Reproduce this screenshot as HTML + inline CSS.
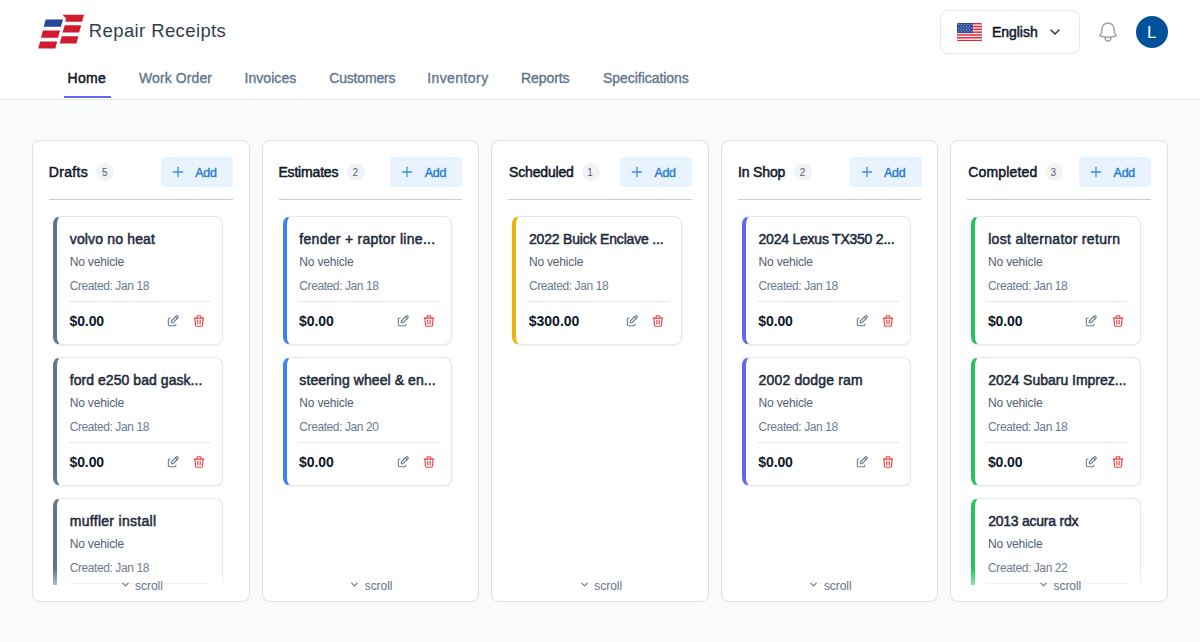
<!DOCTYPE html>
<html><head><meta charset="utf-8"><title>Repair Receipts</title>
<style>
*{box-sizing:border-box;margin:0;padding:0}
html,body{width:1200px;height:642px;overflow:hidden}
body{background:#f8fafc;font-family:"Liberation Sans",sans-serif;position:relative;color:#0f172a}
.t{position:absolute;white-space:nowrap}
.hdr{position:absolute;left:0;top:0;width:1200px;height:100px;background:#fff;border-bottom:1px solid #e5e7eb}
.ul{position:absolute;left:64px;top:96px;width:47px;height:2px;background:#6366f1}
.lang{position:absolute;left:940px;top:10px;width:140px;height:44px;border:1px solid #e6e8ec;border-radius:8px;background:#fff}
.av{position:absolute;left:1136px;top:16px;width:32px;height:32px;border-radius:50%;background:#00539a}
.col{position:absolute;top:140px;width:217.6px;height:462px;background:#fff;border:1px solid #dcdfe5;border-radius:8px}
.clip{position:absolute;left:0;top:60px;width:1200px;height:525px;overflow:hidden}
.bd{position:absolute;top:162.8px;width:18.200px;height:18.200px;border-radius:50%;background:#f2f3f6}
.add{position:absolute;top:157px;width:72px;height:30px;border-radius:4px;background:#e8f3fd}
.hr{position:absolute;top:199px;width:183.6px;height:1px;background:#cbced3}
.card{position:absolute;width:169.6px;height:128.6px;background:#fff;border:1px solid #e2e8f0;border-left:4px solid #000;border-radius:8px;box-shadow:0 1px 2px rgba(15,23,42,.06)}
.dv{position:absolute;width:141px;height:1px;background:#e2e8f0}
.ic{position:absolute;width:14px;height:14px}
.fade{position:absolute;top:569px;width:215.6px;height:16px;background:linear-gradient(to bottom,rgba(255,255,255,0),rgba(255,255,255,.52))}
</style></head><body>
<div class="hdr"></div>
<svg style="position:absolute;left:0;top:0" width="100" height="60" viewBox="0 0 100 60"><g fill="#d01c2e"><path d="M62.500 14.800H84l-1.900 6.900H65.300l.8-3.300z"/><path d="M64.700 25.200h16.500l-2 7.300H62.500z"/><path d="M61.800 36.300h16.600l-2 7.200H59.700z"/><path d="M42.900 30.400H60l-1.900 7.300H41z"/><path d="M40.100 41.400h17.100l-1.900 7.200H38.200z"/></g><path d="M45.700 19.600H63l-2.100 7.200H43.800z" fill="#24429b"/><g fill="#fff" fill-opacity=".22"><circle cx="47.20" cy="21.30" r=".42"/><circle cx="49.30" cy="21.30" r=".42"/><circle cx="51.40" cy="21.30" r=".42"/><circle cx="53.50" cy="21.30" r=".42"/><circle cx="55.60" cy="21.30" r=".42"/><circle cx="57.70" cy="21.30" r=".42"/><circle cx="59.80" cy="21.30" r=".42"/><circle cx="46.65" cy="23.20" r=".42"/><circle cx="48.75" cy="23.20" r=".42"/><circle cx="50.85" cy="23.20" r=".42"/><circle cx="52.95" cy="23.20" r=".42"/><circle cx="55.05" cy="23.20" r=".42"/><circle cx="57.15" cy="23.20" r=".42"/><circle cx="59.25" cy="23.20" r=".42"/><circle cx="46.10" cy="25.10" r=".42"/><circle cx="48.20" cy="25.10" r=".42"/><circle cx="50.30" cy="25.10" r=".42"/><circle cx="52.40" cy="25.10" r=".42"/><circle cx="54.50" cy="25.10" r=".42"/><circle cx="56.60" cy="25.10" r=".42"/><circle cx="58.70" cy="25.10" r=".42"/></g></svg>

<div class="t" style="left:88.80px;top:18px;font-size:18.5px;line-height:25px;color:#343d4d;letter-spacing:0.388px;">Repair Receipts</div>
<div class="t" style="left:67.55px;top:68px;font-size:14px;line-height:20px;color:#0f172a;letter-spacing:0.314px;-webkit-text-stroke:0.5px #0f172a;">Home</div>
<div class="t" style="left:138.98px;top:68px;font-size:14px;line-height:20px;color:#64748b;letter-spacing:0.103px;-webkit-text-stroke:0.35px #64748b;">Work Order</div>
<div class="t" style="left:244.48px;top:68px;font-size:14px;line-height:20px;color:#64748b;letter-spacing:0.056px;-webkit-text-stroke:0.35px #64748b;">Invoices</div>
<div class="t" style="left:329.18px;top:68px;font-size:14px;line-height:20px;color:#64748b;letter-spacing:-0.154px;-webkit-text-stroke:0.35px #64748b;">Customers</div>
<div class="t" style="left:427.18px;top:68px;font-size:14px;line-height:20px;color:#64748b;letter-spacing:0.421px;-webkit-text-stroke:0.35px #64748b;">Inventory</div>
<div class="t" style="left:520.97px;top:68px;font-size:14px;line-height:20px;color:#64748b;letter-spacing:-0.062px;-webkit-text-stroke:0.35px #64748b;">Reports</div>
<div class="t" style="left:602.97px;top:68px;font-size:14px;line-height:20px;color:#64748b;letter-spacing:-0.041px;-webkit-text-stroke:0.35px #64748b;">Specifications</div>
<div class="ul"></div>
<div class="lang"><svg style="position:absolute;left:16px;top:11.800px" width="25.100" height="18.300" viewBox="0 0 25.100 18.300"><defs><clipPath id="fc"><rect width="25.100" height="18.300" rx="1.800"/></clipPath></defs><g clip-path="url(#fc)"><rect width="25.100" height="18.300" fill="#fdeef0"/><g fill="#e02235"><rect y="0.000" width="25.100" height="1.410"/><rect y="2.815" width="25.100" height="1.410"/><rect y="5.630" width="25.100" height="1.410"/><rect y="8.445" width="25.100" height="1.410"/><rect y="11.260" width="25.100" height="1.410"/><rect y="14.075" width="25.100" height="1.410"/><rect y="16.890" width="25.100" height="1.410"/></g><rect width="15.700" height="10.150" fill="#27459b"/><g fill="#fff" fill-opacity=".78"><circle cx="1.70" cy="1.50" r=".55"/><circle cx="4.80" cy="1.50" r=".55"/><circle cx="7.90" cy="1.50" r=".55"/><circle cx="11.00" cy="1.50" r=".55"/><circle cx="14.10" cy="1.50" r=".55"/><circle cx="3.25" cy="3.30" r=".55"/><circle cx="6.35" cy="3.30" r=".55"/><circle cx="9.45" cy="3.30" r=".55"/><circle cx="12.55" cy="3.30" r=".55"/><circle cx="1.70" cy="5.10" r=".55"/><circle cx="4.80" cy="5.10" r=".55"/><circle cx="7.90" cy="5.10" r=".55"/><circle cx="11.00" cy="5.10" r=".55"/><circle cx="14.10" cy="5.10" r=".55"/><circle cx="3.25" cy="6.90" r=".55"/><circle cx="6.35" cy="6.90" r=".55"/><circle cx="9.45" cy="6.90" r=".55"/><circle cx="12.55" cy="6.90" r=".55"/><circle cx="1.70" cy="8.70" r=".55"/><circle cx="4.80" cy="8.70" r=".55"/><circle cx="7.90" cy="8.70" r=".55"/><circle cx="11.00" cy="8.70" r=".55"/><circle cx="14.10" cy="8.70" r=".55"/></g></g></svg>
<svg style="position:absolute;left:106px;top:13px" width="16" height="16" viewBox="0 0 24 24" fill="none" stroke="#1f2937" stroke-width="2" stroke-linecap="round" stroke-linejoin="round"><path d="M6 9l6 6l6 -6"/></svg></div>
<div class="t" style="left:991.95px;top:22px;font-size:14px;line-height:20px;color:#0f172a;letter-spacing:-0.022px;-webkit-text-stroke:0.5px #0f172a;">English</div>
<svg style="position:absolute;left:1096px;top:19.700px" width="24" height="24" viewBox="0 0 24 24" fill="none" stroke="#9ca3af" stroke-width="1.500" stroke-linecap="round" stroke-linejoin="round"><path d="M14.857 17.082a23.848 23.848 0 0 0 5.454-1.310A8.967 8.967 0 0 1 18 9.750V9A6 6 0 0 0 6 9v.750a8.967 8.967 0 0 1-2.312 6.022c1.733.640 3.560 1.085 5.455 1.310m5.714 0a24.255 24.255 0 0 1-5.714 0m5.714 0a3 3 0 1 1-5.714 0"/></svg>
<div class="av"></div>
<div class="t" style="left:1146.90px;top:20px;font-size:17px;line-height:25px;color:#ffffff;letter-spacing:0.000px;">L</div>
<div class="col" style="left:32px"></div>
<div class="t" style="left:48.75px;top:162px;font-size:14px;line-height:20px;color:#0f172a;letter-spacing:0.332px;-webkit-text-stroke:0.5px #0f172a;">Drafts</div>
<div class="bd" style="left:96.30px"></div>
<div class="t" style="left:101.90px;top:165px;font-size:10px;line-height:15px;color:#56606f;letter-spacing:0.000px;">5</div>
<div class="add" style="left:160.80px"><svg style="position:absolute;left:9px;top:7px" width="16" height="16" viewBox="0 0 24 24" fill="none" stroke="#3b8fe3" stroke-width="1.900" stroke-linecap="round" stroke-linejoin="round"><path d="M12 5l0 14"/><path d="M5 12l14 0"/></svg></div>
<div class="t" style="left:195.18px;top:164px;font-size:12.5px;line-height:18px;color:#1f78d6;letter-spacing:-0.270px;-webkit-text-stroke:0.35px #1f78d6;">Add</div>
<div class="hr" style="left:49.00px"></div>
<div class="clip">
<div class="card" style="left:53.00px;top:156px;border-left-color:#64748b"></div>
<div class="t" style="left:69.75px;top:169px;font-size:14px;line-height:20px;color:#1e293b;letter-spacing:0.159px;-webkit-text-stroke:0.5px #1e293b;">volvo no heat</div>
<div class="t" style="left:69.70px;top:194px;font-size:12px;line-height:16px;color:#526074;letter-spacing:-0.173px;">No vehicle</div>
<div class="t" style="left:69.70px;top:218px;font-size:12px;line-height:16px;color:#6b7a90;letter-spacing:-0.408px;">Created: Jan 18</div>
<div class="dv" style="left:69.00px;top:241px"></div>
<div class="t" style="left:69.50px;top:251px;font-size:14px;line-height:20px;color:#0f172a;letter-spacing:-0.112px;font-weight:bold;">$0.00</div>
<svg class="ic" style="left:166.00px;top:254.30px" viewBox="0 0 24 24" fill="none" stroke="#6b7a90" stroke-width="1.850" stroke-linecap="round" stroke-linejoin="round"><path d="M7 7h-1a2 2 0 0 0 -2 2v9a2 2 0 0 0 2 2h9a2 2 0 0 0 2 -2v-1"/><path d="M20.385 6.585a2.100 2.100 0 0 0 -2.970 -2.970l-8.415 8.385v3h3l8.385 -8.415z"/><path d="M16 5l3 3"/></svg>
<svg class="ic" style="left:192.20px;top:254.30px" viewBox="0 0 24 24" fill="none" stroke="#ef4444" stroke-width="2" stroke-linecap="round" stroke-linejoin="round"><path d="M4 7l16 0"/><path d="M10 11l0 6"/><path d="M14 11l0 6"/><path d="M5 7l1 12a2 2 0 0 0 2 2h8a2 2 0 0 0 2 -2l1 -12"/><path d="M9 7v-3a1 1 0 0 1 1 -1h4a1 1 0 0 1 1 1v3"/></svg>
<div class="card" style="left:53.00px;top:297px;border-left-color:#64748b"></div>
<div class="t" style="left:69.75px;top:310px;font-size:14px;line-height:20px;color:#1e293b;letter-spacing:0.053px;-webkit-text-stroke:0.5px #1e293b;">ford e250 bad gask...</div>
<div class="t" style="left:69.70px;top:335px;font-size:12px;line-height:16px;color:#526074;letter-spacing:-0.173px;">No vehicle</div>
<div class="t" style="left:69.70px;top:359px;font-size:12px;line-height:16px;color:#6b7a90;letter-spacing:-0.408px;">Created: Jan 18</div>
<div class="dv" style="left:69.00px;top:382px"></div>
<div class="t" style="left:69.50px;top:392px;font-size:14px;line-height:20px;color:#0f172a;letter-spacing:-0.112px;font-weight:bold;">$0.00</div>
<svg class="ic" style="left:166.00px;top:395.30px" viewBox="0 0 24 24" fill="none" stroke="#6b7a90" stroke-width="1.850" stroke-linecap="round" stroke-linejoin="round"><path d="M7 7h-1a2 2 0 0 0 -2 2v9a2 2 0 0 0 2 2h9a2 2 0 0 0 2 -2v-1"/><path d="M20.385 6.585a2.100 2.100 0 0 0 -2.970 -2.970l-8.415 8.385v3h3l8.385 -8.415z"/><path d="M16 5l3 3"/></svg>
<svg class="ic" style="left:192.20px;top:395.30px" viewBox="0 0 24 24" fill="none" stroke="#ef4444" stroke-width="2" stroke-linecap="round" stroke-linejoin="round"><path d="M4 7l16 0"/><path d="M10 11l0 6"/><path d="M14 11l0 6"/><path d="M5 7l1 12a2 2 0 0 0 2 2h8a2 2 0 0 0 2 -2l1 -12"/><path d="M9 7v-3a1 1 0 0 1 1 -1h4a1 1 0 0 1 1 1v3"/></svg>
<div class="card" style="left:53.00px;top:438px;border-left-color:#64748b"></div>
<div class="t" style="left:69.75px;top:451px;font-size:14px;line-height:20px;color:#1e293b;letter-spacing:0.292px;-webkit-text-stroke:0.5px #1e293b;">muffler install</div>
<div class="t" style="left:69.70px;top:476px;font-size:12px;line-height:16px;color:#526074;letter-spacing:-0.173px;">No vehicle</div>
<div class="t" style="left:69.70px;top:500px;font-size:12px;line-height:16px;color:#6b7a90;letter-spacing:-0.408px;">Created: Jan 18</div>
<div class="dv" style="left:69.00px;top:523px"></div>
<div class="t" style="left:69.50px;top:533px;font-size:14px;line-height:20px;color:#0f172a;letter-spacing:-0.112px;font-weight:bold;">$0.00</div>
<svg class="ic" style="left:166.00px;top:536.30px" viewBox="0 0 24 24" fill="none" stroke="#6b7a90" stroke-width="1.850" stroke-linecap="round" stroke-linejoin="round"><path d="M7 7h-1a2 2 0 0 0 -2 2v9a2 2 0 0 0 2 2h9a2 2 0 0 0 2 -2v-1"/><path d="M20.385 6.585a2.100 2.100 0 0 0 -2.970 -2.970l-8.415 8.385v3h3l8.385 -8.415z"/><path d="M16 5l3 3"/></svg>
<svg class="ic" style="left:192.20px;top:536.30px" viewBox="0 0 24 24" fill="none" stroke="#ef4444" stroke-width="2" stroke-linecap="round" stroke-linejoin="round"><path d="M4 7l16 0"/><path d="M10 11l0 6"/><path d="M14 11l0 6"/><path d="M5 7l1 12a2 2 0 0 0 2 2h8a2 2 0 0 0 2 -2l1 -12"/><path d="M9 7v-3a1 1 0 0 1 1 -1h4a1 1 0 0 1 1 1v3"/></svg>
</div>
<div class="fade" style="left:33.00px"></div>
<svg style="position:absolute;left:119.60px;top:579.45px" width="11" height="11" viewBox="0 0 24 24" fill="none" stroke="#64748b" stroke-width="2.400" stroke-linecap="round" stroke-linejoin="round"><path d="M6 9l6 6l6 -6"/></svg>
<div class="t" style="left:135.10px;top:578px;font-size:12px;line-height:16px;color:#64748b;letter-spacing:-0.047px;">scroll</div>
<div class="col" style="left:261.6px"></div>
<div class="t" style="left:278.45px;top:162px;font-size:14px;line-height:20px;color:#0f172a;letter-spacing:-0.183px;-webkit-text-stroke:0.5px #0f172a;">Estimates</div>
<div class="bd" style="left:347.00px"></div>
<div class="t" style="left:352.60px;top:165px;font-size:10px;line-height:15px;color:#56606f;letter-spacing:0.000px;">2</div>
<div class="add" style="left:390.40px"><svg style="position:absolute;left:9px;top:7px" width="16" height="16" viewBox="0 0 24 24" fill="none" stroke="#3b8fe3" stroke-width="1.900" stroke-linecap="round" stroke-linejoin="round"><path d="M12 5l0 14"/><path d="M5 12l14 0"/></svg></div>
<div class="t" style="left:424.78px;top:164px;font-size:12.5px;line-height:18px;color:#1f78d6;letter-spacing:-0.270px;-webkit-text-stroke:0.35px #1f78d6;">Add</div>
<div class="hr" style="left:278.60px"></div>
<div class="clip">
<div class="card" style="left:282.60px;top:156px;border-left-color:#3b82f6"></div>
<div class="t" style="left:299.35px;top:169px;font-size:14px;line-height:20px;color:#1e293b;letter-spacing:0.282px;-webkit-text-stroke:0.5px #1e293b;">fender + raptor line...</div>
<div class="t" style="left:299.30px;top:194px;font-size:12px;line-height:16px;color:#526074;letter-spacing:-0.173px;">No vehicle</div>
<div class="t" style="left:299.30px;top:218px;font-size:12px;line-height:16px;color:#6b7a90;letter-spacing:-0.408px;">Created: Jan 18</div>
<div class="dv" style="left:298.60px;top:241px"></div>
<div class="t" style="left:299.10px;top:251px;font-size:14px;line-height:20px;color:#0f172a;letter-spacing:-0.112px;font-weight:bold;">$0.00</div>
<svg class="ic" style="left:395.60px;top:254.30px" viewBox="0 0 24 24" fill="none" stroke="#6b7a90" stroke-width="1.850" stroke-linecap="round" stroke-linejoin="round"><path d="M7 7h-1a2 2 0 0 0 -2 2v9a2 2 0 0 0 2 2h9a2 2 0 0 0 2 -2v-1"/><path d="M20.385 6.585a2.100 2.100 0 0 0 -2.970 -2.970l-8.415 8.385v3h3l8.385 -8.415z"/><path d="M16 5l3 3"/></svg>
<svg class="ic" style="left:421.80px;top:254.30px" viewBox="0 0 24 24" fill="none" stroke="#ef4444" stroke-width="2" stroke-linecap="round" stroke-linejoin="round"><path d="M4 7l16 0"/><path d="M10 11l0 6"/><path d="M14 11l0 6"/><path d="M5 7l1 12a2 2 0 0 0 2 2h8a2 2 0 0 0 2 -2l1 -12"/><path d="M9 7v-3a1 1 0 0 1 1 -1h4a1 1 0 0 1 1 1v3"/></svg>
<div class="card" style="left:282.60px;top:297px;border-left-color:#3b82f6"></div>
<div class="t" style="left:299.35px;top:310px;font-size:14px;line-height:20px;color:#1e293b;letter-spacing:0.079px;-webkit-text-stroke:0.5px #1e293b;">steering wheel &amp; en...</div>
<div class="t" style="left:299.30px;top:335px;font-size:12px;line-height:16px;color:#526074;letter-spacing:-0.173px;">No vehicle</div>
<div class="t" style="left:299.30px;top:359px;font-size:12px;line-height:16px;color:#6b7a90;letter-spacing:-0.408px;">Created: Jan 20</div>
<div class="dv" style="left:298.60px;top:382px"></div>
<div class="t" style="left:299.10px;top:392px;font-size:14px;line-height:20px;color:#0f172a;letter-spacing:-0.112px;font-weight:bold;">$0.00</div>
<svg class="ic" style="left:395.60px;top:395.30px" viewBox="0 0 24 24" fill="none" stroke="#6b7a90" stroke-width="1.850" stroke-linecap="round" stroke-linejoin="round"><path d="M7 7h-1a2 2 0 0 0 -2 2v9a2 2 0 0 0 2 2h9a2 2 0 0 0 2 -2v-1"/><path d="M20.385 6.585a2.100 2.100 0 0 0 -2.970 -2.970l-8.415 8.385v3h3l8.385 -8.415z"/><path d="M16 5l3 3"/></svg>
<svg class="ic" style="left:421.80px;top:395.30px" viewBox="0 0 24 24" fill="none" stroke="#ef4444" stroke-width="2" stroke-linecap="round" stroke-linejoin="round"><path d="M4 7l16 0"/><path d="M10 11l0 6"/><path d="M14 11l0 6"/><path d="M5 7l1 12a2 2 0 0 0 2 2h8a2 2 0 0 0 2 -2l1 -12"/><path d="M9 7v-3a1 1 0 0 1 1 -1h4a1 1 0 0 1 1 1v3"/></svg>
</div>
<div class="fade" style="left:262.60px"></div>
<svg style="position:absolute;left:349.20px;top:579.45px" width="11" height="11" viewBox="0 0 24 24" fill="none" stroke="#64748b" stroke-width="2.400" stroke-linecap="round" stroke-linejoin="round"><path d="M6 9l6 6l6 -6"/></svg>
<div class="t" style="left:364.70px;top:578px;font-size:12px;line-height:16px;color:#64748b;letter-spacing:-0.047px;">scroll</div>
<div class="col" style="left:491.2px"></div>
<div class="t" style="left:509.05px;top:162px;font-size:14px;line-height:20px;color:#0f172a;letter-spacing:-0.172px;-webkit-text-stroke:0.5px #0f172a;">Scheduled</div>
<div class="bd" style="left:581.60px"></div>
<div class="t" style="left:587.20px;top:165px;font-size:10px;line-height:15px;color:#56606f;letter-spacing:0.000px;">1</div>
<div class="add" style="left:620.00px"><svg style="position:absolute;left:9px;top:7px" width="16" height="16" viewBox="0 0 24 24" fill="none" stroke="#3b8fe3" stroke-width="1.900" stroke-linecap="round" stroke-linejoin="round"><path d="M12 5l0 14"/><path d="M5 12l14 0"/></svg></div>
<div class="t" style="left:654.38px;top:164px;font-size:12.5px;line-height:18px;color:#1f78d6;letter-spacing:-0.270px;-webkit-text-stroke:0.35px #1f78d6;">Add</div>
<div class="hr" style="left:508.20px"></div>
<div class="clip">
<div class="card" style="left:512.20px;top:156px;border-left-color:#eab308"></div>
<div class="t" style="left:528.95px;top:169px;font-size:14px;line-height:20px;color:#1e293b;letter-spacing:-0.183px;-webkit-text-stroke:0.5px #1e293b;">2022 Buick Enclave ...</div>
<div class="t" style="left:528.90px;top:194px;font-size:12px;line-height:16px;color:#526074;letter-spacing:-0.173px;">No vehicle</div>
<div class="t" style="left:528.90px;top:218px;font-size:12px;line-height:16px;color:#6b7a90;letter-spacing:-0.408px;">Created: Jan 18</div>
<div class="dv" style="left:528.20px;top:241px"></div>
<div class="t" style="left:528.70px;top:251px;font-size:14px;line-height:20px;color:#0f172a;letter-spacing:0.013px;font-weight:bold;">$300.00</div>
<svg class="ic" style="left:625.20px;top:254.30px" viewBox="0 0 24 24" fill="none" stroke="#6b7a90" stroke-width="1.850" stroke-linecap="round" stroke-linejoin="round"><path d="M7 7h-1a2 2 0 0 0 -2 2v9a2 2 0 0 0 2 2h9a2 2 0 0 0 2 -2v-1"/><path d="M20.385 6.585a2.100 2.100 0 0 0 -2.970 -2.970l-8.415 8.385v3h3l8.385 -8.415z"/><path d="M16 5l3 3"/></svg>
<svg class="ic" style="left:651.40px;top:254.30px" viewBox="0 0 24 24" fill="none" stroke="#ef4444" stroke-width="2" stroke-linecap="round" stroke-linejoin="round"><path d="M4 7l16 0"/><path d="M10 11l0 6"/><path d="M14 11l0 6"/><path d="M5 7l1 12a2 2 0 0 0 2 2h8a2 2 0 0 0 2 -2l1 -12"/><path d="M9 7v-3a1 1 0 0 1 1 -1h4a1 1 0 0 1 1 1v3"/></svg>
</div>
<div class="fade" style="left:492.20px"></div>
<svg style="position:absolute;left:578.80px;top:579.45px" width="11" height="11" viewBox="0 0 24 24" fill="none" stroke="#64748b" stroke-width="2.400" stroke-linecap="round" stroke-linejoin="round"><path d="M6 9l6 6l6 -6"/></svg>
<div class="t" style="left:594.30px;top:578px;font-size:12px;line-height:16px;color:#64748b;letter-spacing:-0.047px;">scroll</div>
<div class="col" style="left:720.8px"></div>
<div class="t" style="left:737.95px;top:162px;font-size:14px;line-height:20px;color:#0f172a;letter-spacing:-0.146px;-webkit-text-stroke:0.5px #0f172a;">In Shop</div>
<div class="bd" style="left:794.10px"></div>
<div class="t" style="left:799.70px;top:165px;font-size:10px;line-height:15px;color:#56606f;letter-spacing:0.000px;">2</div>
<div class="add" style="left:849.60px"><svg style="position:absolute;left:9px;top:7px" width="16" height="16" viewBox="0 0 24 24" fill="none" stroke="#3b8fe3" stroke-width="1.900" stroke-linecap="round" stroke-linejoin="round"><path d="M12 5l0 14"/><path d="M5 12l14 0"/></svg></div>
<div class="t" style="left:883.97px;top:164px;font-size:12.5px;line-height:18px;color:#1f78d6;letter-spacing:-0.270px;-webkit-text-stroke:0.35px #1f78d6;">Add</div>
<div class="hr" style="left:737.80px"></div>
<div class="clip">
<div class="card" style="left:741.80px;top:156px;border-left-color:#6366f1"></div>
<div class="t" style="left:758.55px;top:169px;font-size:14px;line-height:20px;color:#1e293b;letter-spacing:-0.229px;-webkit-text-stroke:0.5px #1e293b;">2024 Lexus TX350 2...</div>
<div class="t" style="left:758.50px;top:194px;font-size:12px;line-height:16px;color:#526074;letter-spacing:-0.173px;">No vehicle</div>
<div class="t" style="left:758.50px;top:218px;font-size:12px;line-height:16px;color:#6b7a90;letter-spacing:-0.408px;">Created: Jan 18</div>
<div class="dv" style="left:757.80px;top:241px"></div>
<div class="t" style="left:758.30px;top:251px;font-size:14px;line-height:20px;color:#0f172a;letter-spacing:-0.112px;font-weight:bold;">$0.00</div>
<svg class="ic" style="left:854.80px;top:254.30px" viewBox="0 0 24 24" fill="none" stroke="#6b7a90" stroke-width="1.850" stroke-linecap="round" stroke-linejoin="round"><path d="M7 7h-1a2 2 0 0 0 -2 2v9a2 2 0 0 0 2 2h9a2 2 0 0 0 2 -2v-1"/><path d="M20.385 6.585a2.100 2.100 0 0 0 -2.970 -2.970l-8.415 8.385v3h3l8.385 -8.415z"/><path d="M16 5l3 3"/></svg>
<svg class="ic" style="left:881.00px;top:254.30px" viewBox="0 0 24 24" fill="none" stroke="#ef4444" stroke-width="2" stroke-linecap="round" stroke-linejoin="round"><path d="M4 7l16 0"/><path d="M10 11l0 6"/><path d="M14 11l0 6"/><path d="M5 7l1 12a2 2 0 0 0 2 2h8a2 2 0 0 0 2 -2l1 -12"/><path d="M9 7v-3a1 1 0 0 1 1 -1h4a1 1 0 0 1 1 1v3"/></svg>
<div class="card" style="left:741.80px;top:297px;border-left-color:#6366f1"></div>
<div class="t" style="left:758.55px;top:310px;font-size:14px;line-height:20px;color:#1e293b;letter-spacing:0.161px;-webkit-text-stroke:0.5px #1e293b;">2002 dodge ram</div>
<div class="t" style="left:758.50px;top:335px;font-size:12px;line-height:16px;color:#526074;letter-spacing:-0.173px;">No vehicle</div>
<div class="t" style="left:758.50px;top:359px;font-size:12px;line-height:16px;color:#6b7a90;letter-spacing:-0.408px;">Created: Jan 18</div>
<div class="dv" style="left:757.80px;top:382px"></div>
<div class="t" style="left:758.30px;top:392px;font-size:14px;line-height:20px;color:#0f172a;letter-spacing:-0.112px;font-weight:bold;">$0.00</div>
<svg class="ic" style="left:854.80px;top:395.30px" viewBox="0 0 24 24" fill="none" stroke="#6b7a90" stroke-width="1.850" stroke-linecap="round" stroke-linejoin="round"><path d="M7 7h-1a2 2 0 0 0 -2 2v9a2 2 0 0 0 2 2h9a2 2 0 0 0 2 -2v-1"/><path d="M20.385 6.585a2.100 2.100 0 0 0 -2.970 -2.970l-8.415 8.385v3h3l8.385 -8.415z"/><path d="M16 5l3 3"/></svg>
<svg class="ic" style="left:881.00px;top:395.30px" viewBox="0 0 24 24" fill="none" stroke="#ef4444" stroke-width="2" stroke-linecap="round" stroke-linejoin="round"><path d="M4 7l16 0"/><path d="M10 11l0 6"/><path d="M14 11l0 6"/><path d="M5 7l1 12a2 2 0 0 0 2 2h8a2 2 0 0 0 2 -2l1 -12"/><path d="M9 7v-3a1 1 0 0 1 1 -1h4a1 1 0 0 1 1 1v3"/></svg>
</div>
<div class="fade" style="left:721.80px"></div>
<svg style="position:absolute;left:808.40px;top:579.45px" width="11" height="11" viewBox="0 0 24 24" fill="none" stroke="#64748b" stroke-width="2.400" stroke-linecap="round" stroke-linejoin="round"><path d="M6 9l6 6l6 -6"/></svg>
<div class="t" style="left:823.90px;top:578px;font-size:12px;line-height:16px;color:#64748b;letter-spacing:-0.047px;">scroll</div>
<div class="col" style="left:950.4px"></div>
<div class="t" style="left:968.25px;top:162px;font-size:14px;line-height:20px;color:#0f172a;letter-spacing:0.160px;-webkit-text-stroke:0.5px #0f172a;">Completed</div>
<div class="bd" style="left:1045.00px"></div>
<div class="t" style="left:1050.60px;top:165px;font-size:10px;line-height:15px;color:#56606f;letter-spacing:0.000px;">3</div>
<div class="add" style="left:1079.20px"><svg style="position:absolute;left:9px;top:7px" width="16" height="16" viewBox="0 0 24 24" fill="none" stroke="#3b8fe3" stroke-width="1.900" stroke-linecap="round" stroke-linejoin="round"><path d="M12 5l0 14"/><path d="M5 12l14 0"/></svg></div>
<div class="t" style="left:1113.58px;top:164px;font-size:12.5px;line-height:18px;color:#1f78d6;letter-spacing:-0.270px;-webkit-text-stroke:0.35px #1f78d6;">Add</div>
<div class="hr" style="left:967.40px"></div>
<div class="clip">
<div class="card" style="left:971.40px;top:156px;border-left-color:#22c55e"></div>
<div class="t" style="left:988.15px;top:169px;font-size:14px;line-height:20px;color:#1e293b;letter-spacing:0.314px;-webkit-text-stroke:0.5px #1e293b;">lost alternator return</div>
<div class="t" style="left:988.10px;top:194px;font-size:12px;line-height:16px;color:#526074;letter-spacing:-0.173px;">No vehicle</div>
<div class="t" style="left:988.10px;top:218px;font-size:12px;line-height:16px;color:#6b7a90;letter-spacing:-0.408px;">Created: Jan 18</div>
<div class="dv" style="left:987.40px;top:241px"></div>
<div class="t" style="left:987.90px;top:251px;font-size:14px;line-height:20px;color:#0f172a;letter-spacing:-0.112px;font-weight:bold;">$0.00</div>
<svg class="ic" style="left:1084.40px;top:254.30px" viewBox="0 0 24 24" fill="none" stroke="#6b7a90" stroke-width="1.850" stroke-linecap="round" stroke-linejoin="round"><path d="M7 7h-1a2 2 0 0 0 -2 2v9a2 2 0 0 0 2 2h9a2 2 0 0 0 2 -2v-1"/><path d="M20.385 6.585a2.100 2.100 0 0 0 -2.970 -2.970l-8.415 8.385v3h3l8.385 -8.415z"/><path d="M16 5l3 3"/></svg>
<svg class="ic" style="left:1110.60px;top:254.30px" viewBox="0 0 24 24" fill="none" stroke="#ef4444" stroke-width="2" stroke-linecap="round" stroke-linejoin="round"><path d="M4 7l16 0"/><path d="M10 11l0 6"/><path d="M14 11l0 6"/><path d="M5 7l1 12a2 2 0 0 0 2 2h8a2 2 0 0 0 2 -2l1 -12"/><path d="M9 7v-3a1 1 0 0 1 1 -1h4a1 1 0 0 1 1 1v3"/></svg>
<div class="card" style="left:971.40px;top:297px;border-left-color:#22c55e"></div>
<div class="t" style="left:988.15px;top:310px;font-size:14px;line-height:20px;color:#1e293b;letter-spacing:-0.012px;-webkit-text-stroke:0.5px #1e293b;">2024 Subaru Imprez...</div>
<div class="t" style="left:988.10px;top:335px;font-size:12px;line-height:16px;color:#526074;letter-spacing:-0.173px;">No vehicle</div>
<div class="t" style="left:988.10px;top:359px;font-size:12px;line-height:16px;color:#6b7a90;letter-spacing:-0.408px;">Created: Jan 18</div>
<div class="dv" style="left:987.40px;top:382px"></div>
<div class="t" style="left:987.90px;top:392px;font-size:14px;line-height:20px;color:#0f172a;letter-spacing:-0.112px;font-weight:bold;">$0.00</div>
<svg class="ic" style="left:1084.40px;top:395.30px" viewBox="0 0 24 24" fill="none" stroke="#6b7a90" stroke-width="1.850" stroke-linecap="round" stroke-linejoin="round"><path d="M7 7h-1a2 2 0 0 0 -2 2v9a2 2 0 0 0 2 2h9a2 2 0 0 0 2 -2v-1"/><path d="M20.385 6.585a2.100 2.100 0 0 0 -2.970 -2.970l-8.415 8.385v3h3l8.385 -8.415z"/><path d="M16 5l3 3"/></svg>
<svg class="ic" style="left:1110.60px;top:395.30px" viewBox="0 0 24 24" fill="none" stroke="#ef4444" stroke-width="2" stroke-linecap="round" stroke-linejoin="round"><path d="M4 7l16 0"/><path d="M10 11l0 6"/><path d="M14 11l0 6"/><path d="M5 7l1 12a2 2 0 0 0 2 2h8a2 2 0 0 0 2 -2l1 -12"/><path d="M9 7v-3a1 1 0 0 1 1 -1h4a1 1 0 0 1 1 1v3"/></svg>
<div class="card" style="left:971.40px;top:438px;border-left-color:#22c55e"></div>
<div class="t" style="left:988.15px;top:451px;font-size:14px;line-height:20px;color:#1e293b;letter-spacing:-0.238px;-webkit-text-stroke:0.5px #1e293b;">2013 acura rdx</div>
<div class="t" style="left:988.10px;top:476px;font-size:12px;line-height:16px;color:#526074;letter-spacing:-0.173px;">No vehicle</div>
<div class="t" style="left:988.10px;top:500px;font-size:12px;line-height:16px;color:#6b7a90;letter-spacing:-0.408px;">Created: Jan 22</div>
<div class="dv" style="left:987.40px;top:523px"></div>
<div class="t" style="left:987.90px;top:533px;font-size:14px;line-height:20px;color:#0f172a;letter-spacing:-0.112px;font-weight:bold;">$0.00</div>
<svg class="ic" style="left:1084.40px;top:536.30px" viewBox="0 0 24 24" fill="none" stroke="#6b7a90" stroke-width="1.850" stroke-linecap="round" stroke-linejoin="round"><path d="M7 7h-1a2 2 0 0 0 -2 2v9a2 2 0 0 0 2 2h9a2 2 0 0 0 2 -2v-1"/><path d="M20.385 6.585a2.100 2.100 0 0 0 -2.970 -2.970l-8.415 8.385v3h3l8.385 -8.415z"/><path d="M16 5l3 3"/></svg>
<svg class="ic" style="left:1110.60px;top:536.30px" viewBox="0 0 24 24" fill="none" stroke="#ef4444" stroke-width="2" stroke-linecap="round" stroke-linejoin="round"><path d="M4 7l16 0"/><path d="M10 11l0 6"/><path d="M14 11l0 6"/><path d="M5 7l1 12a2 2 0 0 0 2 2h8a2 2 0 0 0 2 -2l1 -12"/><path d="M9 7v-3a1 1 0 0 1 1 -1h4a1 1 0 0 1 1 1v3"/></svg>
</div>
<div class="fade" style="left:951.40px"></div>
<svg style="position:absolute;left:1038.00px;top:579.45px" width="11" height="11" viewBox="0 0 24 24" fill="none" stroke="#64748b" stroke-width="2.400" stroke-linecap="round" stroke-linejoin="round"><path d="M6 9l6 6l6 -6"/></svg>
<div class="t" style="left:1053.50px;top:578px;font-size:12px;line-height:16px;color:#64748b;letter-spacing:-0.047px;">scroll</div>
</body></html>
